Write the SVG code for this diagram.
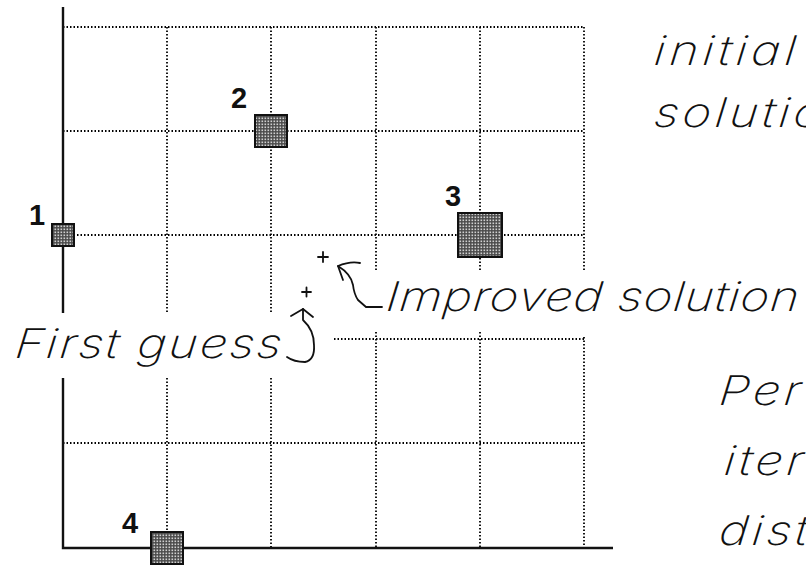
<svg xmlns="http://www.w3.org/2000/svg" width="806" height="566" viewBox="0 0 806 566">
  <defs>
    <pattern id="stipple" width="3" height="3" patternUnits="userSpaceOnUse">
      <rect width="3" height="3" fill="#4a4a4a"/>
      <rect x="0.5" y="0.5" width="1.6" height="1.6" fill="#d0d0d0"/>
    </pattern>
  </defs>
  <style>
    .grid { stroke: #000; stroke-width: 1.8; stroke-dasharray: 1.5 2; fill: none; }
    .axis { stroke: #111; stroke-width: 2.4; fill: none; }
    .pt { fill: url(#stipple); stroke: #111; stroke-width: 2; }
    .num { font-family: "Liberation Sans", Arial, sans-serif; font-weight: bold; font-size: 29px; fill: #111; }
    .note { font-family: Inter, "DejaVu Sans", sans-serif; font-weight: 200; font-style: italic; font-size: 41px; fill: #111; }
    .tail { letter-spacing: 3px; }
    .ink { stroke: #111; stroke-width: 1.8; fill: none; stroke-linecap: round; stroke-linejoin: round; }
  </style>

  <rect width="806" height="566" fill="#fff"/>

  <!-- dotted grid -->
  <g id="grid">
    <path class="grid" d="M63 27H584 M63 131H584 M63 235H584 M334 339H584 M63 443H584"/>
    <path class="grid" d="M167 27V313 M167 378V547 M271 27V313 M271 378V547"/>
    <path class="grid" d="M376 27V272 M376 332V547 M480 27V272 M480 332V547"/>
    <path class="grid" d="M584 27V270 M584 337V547"/>
  </g>

  <!-- axes -->
  <g id="axes">
    <path class="axis" d="M63 7V313 M63 378V548 H613"/>
  </g>

  <!-- data points -->
  <g id="p1">
    <rect class="pt" x="52" y="224" width="22" height="22"/>
    <text class="num" x="29" y="225">1</text>
  </g>
  <g id="p2">
    <rect class="pt" x="255" y="115" width="32" height="32"/>
    <text class="num" x="231" y="108">2</text>
  </g>
  <g id="p3">
    <rect class="pt" x="458" y="213" width="44" height="44"/>
    <text class="num" x="445" y="206">3</text>
  </g>
  <g id="p4">
    <rect class="pt" x="151" y="532" width="32" height="32"/>
    <text class="num" x="122" y="533">4</text>
  </g>

  <!-- solution estimates -->
  <g id="guess-marks">
    <path class="ink" d="M318 257H328 M323 252V262"/>
    <path class="ink" d="M302 292H311 M306.5 287.5V296.5"/>
  </g>

  <!-- pointer arrows -->
  <g id="connectors">
    <path class="ink" d="M382 307H366 L358 300 Q354 294 353 285 Q351 274 338 266"/>
    <path class="ink" d="M360 263 Q350 261 338 266 L343 280"/>
    <path class="ink" d="M303 309 V320 Q314 330 314 345 Q315 360 305 362 Q294 362 287 357"/>
    <path class="ink" d="M291 316 L303 309 L313 317"/>
  </g>

  <!-- annotations (widened, extra slant) -->
  <g id="labels">
    <text class="note" transform="translate(653 65) skewX(-6) scale(1.2 1)" textLength="118" lengthAdjust="spacing">initial</text>
    <text class="note" transform="translate(653 127) skewX(-6) scale(1.2 1)" textLength="140" lengthAdjust="spacing">solutio</text>
    <text class="note" transform="translate(385 311) skewX(-6) scale(1.2 1)" textLength="344" lengthAdjust="spacing">Improved solution</text>
    <text class="note" transform="translate(14 358) skewX(-6) scale(1.2 1)" textLength="222" lengthAdjust="spacing">First guess</text>
    <text class="note tail" transform="translate(718 405) skewX(-6) scale(1.2 1)">Per</text>
    <text class="note tail" transform="translate(723 475) skewX(-6) scale(1.2 1)">iter</text>
    <text class="note tail" transform="translate(718 545) skewX(-6) scale(1.2 1)">dist</text>
  </g>
</svg>
